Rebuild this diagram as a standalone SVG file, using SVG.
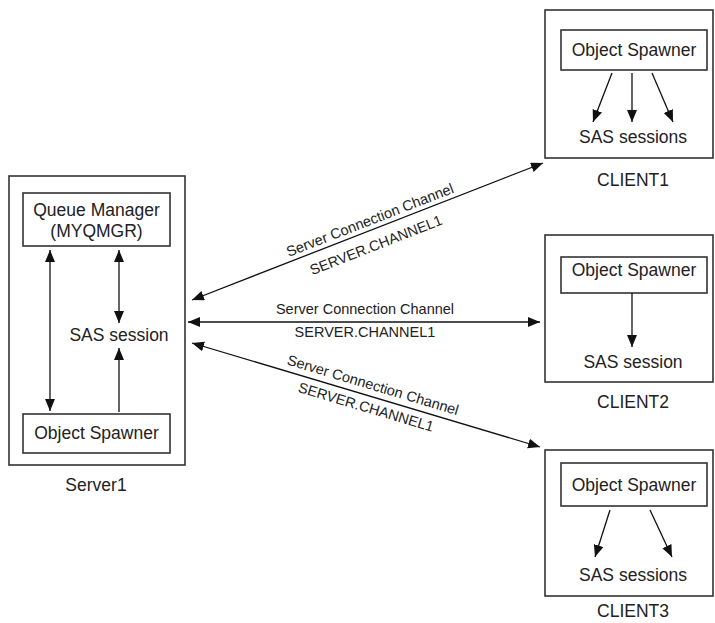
<svg xmlns="http://www.w3.org/2000/svg" width="715" height="623" viewBox="0 0 715 623">
<style>
.box{fill:none;stroke:#333;stroke-width:1.6}
.ln{fill:none;stroke:#111;stroke-width:1.3}
text{font-family:"Liberation Sans",Arial,sans-serif;fill:#222;text-anchor:middle}
.t{font-size:17.5px}
.s{font-size:14.5px}
</style>
<defs>
<marker id="ah" markerUnits="userSpaceOnUse" markerWidth="13" markerHeight="11" refX="12" refY="5" orient="auto-start-reverse">
<path d="M0,0 L12,5 L0,10 z" fill="#111"/>
</marker>
</defs>
<rect width="715" height="623" fill="#fff"/>
<g id="server1">
<rect class="box" x="9" y="176" width="176" height="289"/>
<text class="t" x="96" y="491">Server1</text>
</g>
<g id="queue-manager">
<rect class="box" x="23" y="193" width="147" height="53"/>
<text class="t" x="96.5" y="216">Queue Manager</text>
<text class="t" x="96.5" y="237">(MYQMGR)</text>
</g>
<g id="server-sas-session">
<text class="t" x="119" y="341">SAS session</text>
</g>
<g id="server-object-spawner">
<rect class="box" x="23" y="414" width="147" height="39"/>
<text class="t" x="96.5" y="439">Object Spawner</text>
</g>
<g id="client1">
<rect class="box" x="545" y="10" width="168" height="148"/>
<rect class="box" x="561" y="30" width="146" height="40"/>
<text class="t" x="634" y="56">Object Spawner</text>
<text class="t" x="633" y="143">SAS sessions</text>
<text class="t" x="633" y="186">CLIENT1</text>
</g>
<g id="client2">
<rect class="box" x="545" y="235" width="168" height="147"/>
<rect class="box" x="561" y="257" width="146" height="36"/>
<text class="t" x="634" y="276">Object Spawner</text>
<text class="t" x="633" y="368">SAS session</text>
<text class="t" x="633" y="408">CLIENT2</text>
</g>
<g id="client3">
<rect class="box" x="545" y="450" width="168" height="146"/>
<rect class="box" x="561" y="463" width="146" height="43"/>
<text class="t" x="634" y="491">Object Spawner</text>
<text class="t" x="633" y="581">SAS sessions</text>
<text class="t" x="633" y="617">CLIENT3</text>
</g>
<g id="connectors">
<line class="ln" x1="50" y1="250" x2="50" y2="411" marker-start="url(#ah)" marker-end="url(#ah)"/>
<line class="ln" x1="119" y1="250" x2="119" y2="323" marker-start="url(#ah)" marker-end="url(#ah)"/>
<line class="ln" x1="119" y1="412" x2="119" y2="348" marker-end="url(#ah)"/>
<line class="ln" x1="192" y1="300" x2="543" y2="163" marker-start="url(#ah)" marker-end="url(#ah)"/>
<line class="ln" x1="188" y1="322" x2="540" y2="322" marker-start="url(#ah)" marker-end="url(#ah)"/>
<line class="ln" x1="192" y1="343" x2="540" y2="447" marker-start="url(#ah)" marker-end="url(#ah)"/>
<line class="ln" x1="612" y1="73" x2="593" y2="122" marker-end="url(#ah)"/>
<line class="ln" x1="632" y1="73" x2="632" y2="122" marker-end="url(#ah)"/>
<line class="ln" x1="652" y1="73" x2="673" y2="122" marker-end="url(#ah)"/>
<line class="ln" x1="632" y1="293" x2="632" y2="347" marker-end="url(#ah)"/>
<line class="ln" x1="610" y1="510" x2="595" y2="557" marker-end="url(#ah)"/>
<line class="ln" x1="650" y1="510" x2="672" y2="557" marker-end="url(#ah)"/>
<g transform="translate(370,220) rotate(-21.3)"><text class="s" x="0" y="5">Server Connection Channel</text></g>
<g transform="translate(376,245) rotate(-21.3)"><text class="s" x="0" y="5">SERVER.CHANNEL1</text></g>
<text class="s" x="365" y="314">Server Connection Channel</text>
<text class="s" x="365" y="337">SERVER.CHANNEL1</text>
<g transform="translate(373,385) rotate(16.6)"><text class="s" x="0" y="5">Server Connection Channel</text></g>
<g transform="translate(366,407) rotate(16.6)"><text class="s" x="0" y="5">SERVER.CHANNEL1</text></g>
</g>
</svg>
